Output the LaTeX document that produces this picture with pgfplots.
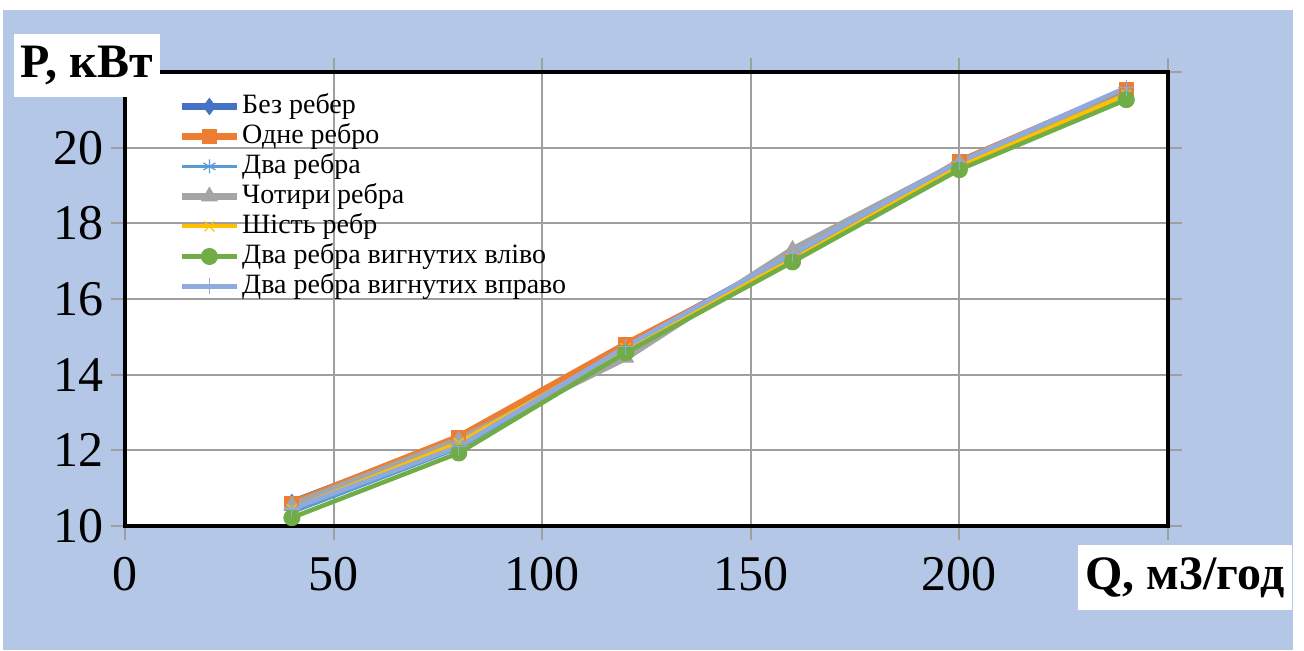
\documentclass[border=0pt]{standalone}
\usepackage{pgfplots}
\pgfplotsset{compat=1.18}
\usepackage{fontspec}
\setmainfont{Liberation Serif}
\definecolor{bgblue}{HTML}{B4C7E7}
\definecolor{cbez}{HTML}{4472C4}
\definecolor{codne}{HTML}{ED7D31}
\definecolor{cdva}{HTML}{5B9BD5}
\definecolor{cchot}{HTML}{A5A5A5}
\definecolor{cshist}{HTML}{FFC000}
\definecolor{cvlivo}{HTML}{70AD47}
\definecolor{cvpravo}{HTML}{8FAADC}
\begin{document}
\begin{tikzpicture}
\fill[white] (0,0) rectangle (652pt,325pt);
\fill[bgblue] (1.5pt,0) rectangle (646.5pt,320pt);
\begin{axis}[
  at={(62.5pt,62pt)}, anchor=south west,
  scale only axis, width=521.5pt, height=227pt,
  xmin=0, xmax=250, ymin=10, ymax=22,
  xtick={0,50,...,250}, ytick={10,12,...,22},
  xticklabels={0,50,100,150,200,{}},
  yticklabels={10,12,14,16,18,20,{}},
  grid=major, major grid style={draw=gray!75, line width=1pt},
  axis line style={black, line width=2pt},
  axis background/.style={fill=white},
  tick align=outside, major tick length=7pt,
  tick style={gray!75, line width=1pt},
  /pgf/number format/assume math mode=true,
  tick label style={font=\fontsize{25}{25}\selectfont},
  xticklabel style={yshift=-5pt},
  legend style={at={(0.051,0.958)}, anchor=north west, draw=none, fill=none,
    font=\fontsize{14}{15}\selectfont, inner sep=0pt,
    nodes={inner sep=1pt, text height=10pt, text depth=3pt},
    /tikz/every even column/.append style={column sep=1pt}},
  legend cell align=left,
  legend image code/.code={\draw[mark repeat=2,mark phase=2] plot coordinates {(0cm,0cm) (0.48cm,0cm) (0.96cm,0cm)};},
]
\addplot[cbez, line width=3.5pt, mark=diamond*, mark size=4pt, mark options={line width=0.5pt}] coordinates {(40,10.62) (80,12.3) (120,14.75) (160,17.15) (200,19.6) (240,21.48)};
\addlegendentry{Без ребер}
\addplot[codne, line width=3.5pt, mark=square*, mark size=3.5pt, mark options={line width=0.5pt}] coordinates {(40,10.6) (80,12.35) (120,14.8) (160,17.08) (200,19.63) (240,21.53)};
\addlegendentry{Одне ребро}
\addplot[cdva, line width=1.5pt, mark=asterisk, mark size=3.5pt, mark options={line width=0.6pt}] coordinates {(40,10.35) (80,12.05) (120,14.65) (160,17.1) (200,19.55) (240,21.45)};
\addlegendentry{Два ребра}
\addplot[cchot, line width=3.5pt, mark=triangle*, mark size=4.5pt, mark options={line width=0.5pt}] coordinates {(40,10.55) (80,12.27) (120,14.45) (160,17.3) (200,19.6) (240,21.38)};
\addlegendentry{Чотири ребра}
\addplot[cshist, line width=2pt, mark=x, mark size=3.5pt, mark options={line width=0.6pt}] coordinates {(40,10.45) (80,12.2) (120,14.7) (160,17.05) (200,19.5) (240,21.4)};
\addlegendentry{Шість ребр}
\addplot[cvlivo, line width=2.25pt, mark=*, mark size=4pt, mark options={line width=0.5pt}] coordinates {(40,10.22) (80,11.93) (120,14.58) (160,16.98) (200,19.42) (240,21.27)};
\addlegendentry{Два ребра вигнутих вліво}
\addplot[cvpravo, line width=2.25pt, mark=+, mark size=4pt, mark options={line width=0.6pt}] coordinates {(40,10.45) (80,12.1) (120,14.74) (160,17.2) (200,19.63) (240,21.59)};
\addlegendentry{Два ребра вигнутих вправо}
\end{axis}
\node[fill=white, minimum width=73pt, minimum height=31.5pt, inner sep=0pt, font=\fontsize{24}{24}\selectfont\bfseries] at (43.5pt,292.25pt) {P, кВт};
\node[fill=white, minimum width=107pt, minimum height=32.5pt, inner sep=0pt, font=\fontsize{24}{24}\selectfont\bfseries] at (592.5pt,36.25pt) {Q, м3/год};
\end{tikzpicture}
\end{document}
